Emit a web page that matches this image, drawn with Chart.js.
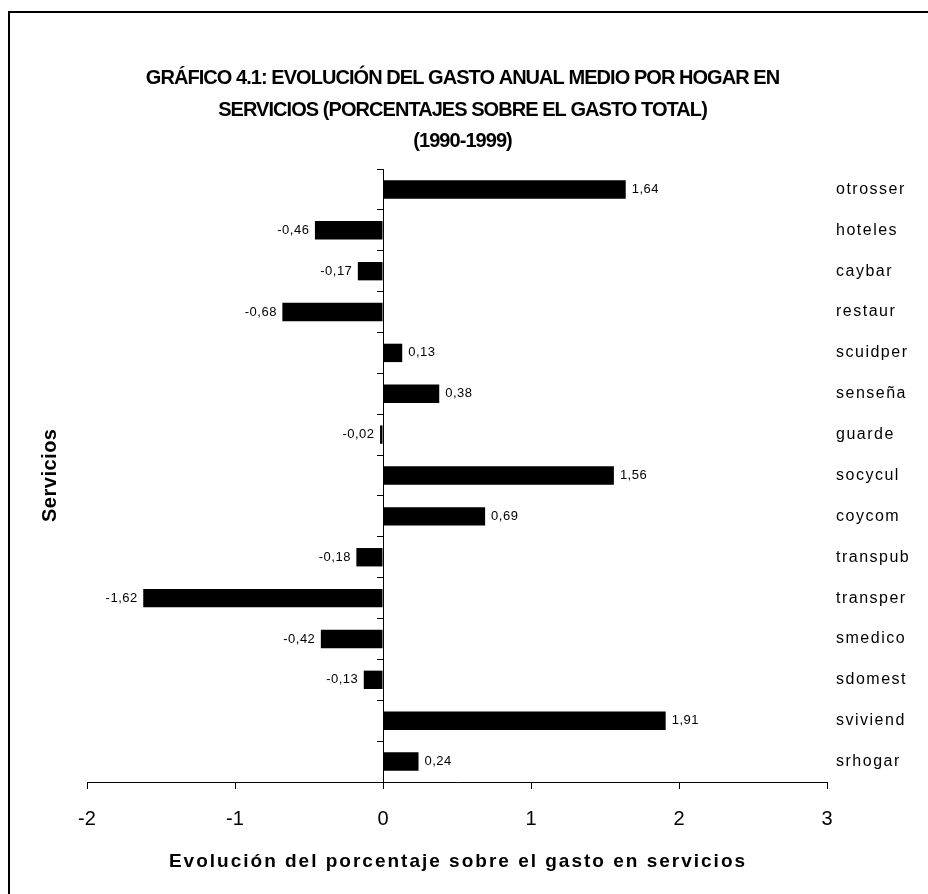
<!DOCTYPE html>
<html>
<head>
<meta charset="utf-8">
<script src="https://cdn.jsdelivr.net/npm/chart.js@4/dist/chart.umd.min.js"></script>
<style>
  html, body { margin: 0; padding: 0; background: #fff; }
  #wrap { width: 928px; height: 894px; position: relative; }
</style>
</head>
<body>
<div id="wrap"><canvas id="c" width="928" height="894"></canvas></div>
<script>
// Services, listed top to bottom
const categories = ['otrosser', 'hoteles', 'caybar', 'restaur', 'scuidper', 'senseña', 'guarde',
  'socycul', 'coycom', 'transpub', 'transper', 'smedico', 'sdomest', 'sviviend', 'srhogar'];
// Change in share of total spending, 1990-1999 (percentage points)
const values = [1.64, -0.46, -0.17, -0.68, 0.13, 0.38, -0.02, 1.56, 0.69, -0.18, -1.62, -0.42, -0.13, 1.91, 0.24];
const xTickLabels = ['-2', '-1', '0', '1', '2', '3'];
const titleLines = [
  'GRÁFICO 4.1: EVOLUCIÓN DEL GASTO ANUAL MEDIO POR HOGAR EN',
  'SERVICIOS (PORCENTAJES SOBRE EL GASTO TOTAL)',
  '(1990-1999)'
];
const xTitle = 'Evolución del porcentaje sobre el gasto en servicios';
const yTitle = 'Servicios';

const FONT = '"Liberation Sans", Arial, sans-serif';
const fmt = v => v.toFixed(2).replace('.', ',');

function spacedText(ctx, text, x, y, font, align, spacing) {
  ctx.save();
  ctx.font = font;
  ctx.letterSpacing = spacing + 'px';
  ctx.fillStyle = '#000';
  ctx.textBaseline = 'middle';
  const w = ctx.measureText(text).width - spacing;
  let sx = x;
  if (align === 'center') sx = x - w / 2;
  else if (align === 'right') sx = x - w;
  ctx.textAlign = 'left';
  ctx.fillText(text, sx, y);
  ctx.restore();
}

const textLayer = {
  id: 'textLayer',
  afterDraw(chart) {
    const ctx = chart.ctx;
    const area = chart.chartArea;
    const xs = chart.scales.x;
    const ys = chart.scales.y;

    // frame
    ctx.save();
    ctx.strokeStyle = '#000';
    ctx.lineWidth = 2;
    ctx.beginPath();
    ctx.moveTo(9, 894);
    ctx.lineTo(9, 12);
    ctx.lineTo(928, 12);
    ctx.stroke();
    ctx.restore();

    // heading
    const titleY = [78, 110, 141];
    titleLines.forEach((t, i) => spacedText(ctx, t, 463, titleY[i], 'bold 20px ' + FONT, 'center', -0.95));

    // axis titles
    spacedText(ctx, xTitle, (area.left + area.right) / 2, 862, 'bold 19px ' + FONT, 'center', 2.0);
    ctx.save();
    ctx.translate(50, (area.top + area.bottom) / 2);
    ctx.rotate(-Math.PI / 2);
    spacedText(ctx, yTitle, 0, 0, 'bold 20px ' + FONT, 'center', 0.5);
    ctx.restore();

    // category names on the right
    categories.forEach((c, i) => {
      spacedText(ctx, c, area.right + 9, ys.getPixelForValue(i), '16px ' + FONT, 'left', 1.5);
    });

    // value labels next to each bar
    const meta = chart.getDatasetMeta(0);
    meta.data.forEach((bar, i) => {
      const v = values[i];
      const end = xs.getPixelForValue(v);
      if (v >= 0) spacedText(ctx, fmt(v), end + 6, bar.y, '13px ' + FONT, 'left', 0.5);
      else spacedText(ctx, fmt(v), end - 6, bar.y, '13px ' + FONT, 'right', 0.5);
    });
  }
};

new Chart(document.getElementById('c'), {
  type: 'bar',
  data: {
    labels: categories,
    datasets: [{
      data: values,
      backgroundColor: '#000',
      borderWidth: 0,
      barPercentage: 0.45,
      categoryPercentage: 1
    }]
  },
  options: {
    indexAxis: 'y',
    responsive: false,
    animation: false,
    devicePixelRatio: 1,
    layout: { padding: { left: 87, top: 169, right: 101, bottom: 0 } },
    plugins: { legend: { display: false }, title: { display: false }, tooltip: { enabled: false } },
    scales: {
      x: {
        type: 'linear',
        position: 'bottom',
        min: -2,
        max: 3,
        afterFit: s => { s.height = 112; },
        afterBuildTicks: s => { s.ticks = xTickLabels.map(t => ({ value: parseFloat(t) })); },
        ticks: {
          callback: (v, i) => xTickLabels[i],
          font: { family: FONT, size: 20 },
          color: '#000',
          padding: 18,
          maxRotation: 0
        },
        grid: { display: true, drawOnChartArea: false, drawTicks: true, tickLength: 7, color: '#000' },
        border: { display: true, color: '#000', width: 1 }
      },
      y: {
        type: 'category',
        position: { x: 0 },
        offset: true,
        ticks: { display: false },
        grid: { display: true, offset: true, drawOnChartArea: false, drawTicks: true, tickLength: 6, color: '#000' },
        border: { display: true, color: '#000', width: 1 }
      }
    }
  },
  plugins: [textLayer]
});
</script>
</body>
</html>
